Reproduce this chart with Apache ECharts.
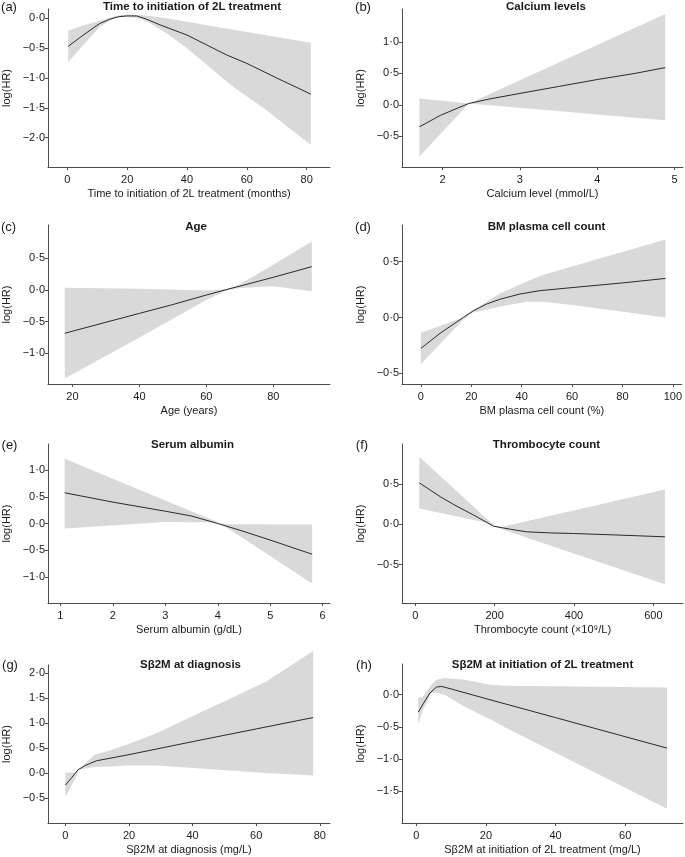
<!DOCTYPE html>
<html><head><meta charset="utf-8">
<script src="https://cdn.jsdelivr.net/npm/echarts@6/dist/echarts.min.js"></script>
<style>html,body{margin:0;padding:0;background:#fff}#c{width:685px;height:857px}</style>
</head><body><div id="c"></div>
<script>
// ---------- (a) Time to initiation of 2L treatment ----------
const aCurveX = [0.3, 4, 7.6, 10.9, 14, 17.1, 20, 23.2, 26.6, 31, 40, 53.3, 60, 70, 81.4];
const aCurveY = [-0.47, -0.33, -0.2, -0.085, -0.02, 0.027, 0.04, 0.04, -0.017, -0.11, -0.28, -0.615, -0.755, -1.0, -1.27];
const aBandX  = [0.3, 5.3, 10.9, 15.5, 17.8, 20, 24, 27.6, 33.2, 40, 55.5, 66.6, 81.4];
const aUpper  = [-0.21, -0.12, -0.04, 0.03, 0.055, 0.06, 0.055, 0.04, 0.0, -0.058, -0.19, -0.284, -0.41];
const aLower  = [-0.73, -0.45, -0.14, 0.0, 0.017, 0.02, 0.0, -0.084, -0.25, -0.50, -1.15, -1.54, -2.12];
const aXTicks = [0, 20, 40, 60, 80];
const aYTicks = [0, -0.5, -1, -1.5, -2];

// ---------- (b) Calcium levels ----------
const bCurveX = [1.7, 1.97, 2.2, 2.34, 2.6, 3.0, 3.5, 4.0, 4.5, 4.88];
const bCurveY = [-0.35, -0.17, -0.05, 0.02, 0.09, 0.18, 0.29, 0.40, 0.50, 0.59];
const bBandX  = [1.7, 2.34, 4.88];
const bUpper  = [0.10, 0.02, 1.44];
const bLower  = [-0.82, 0.02, -0.245];
const bXTicks = [2, 3, 4, 5];
const bYTicks = [-0.5, 0, 0.5, 1.0];

// ---------- (c) Age ----------
const cCurveX = [17.7, 30, 40, 50, 60, 67, 70, 80, 91.5];
const cCurveY = [-0.684, -0.51, -0.37, -0.23, -0.08, 0.02, 0.06, 0.20, 0.368];
const cBandX  = [17.7, 40, 60, 66, 70, 80, 91.5];
const cUpper  = [0.035, 0.02, -0.01, 0.01, 0.09, 0.40, 0.765];
const cLower  = [-1.40, -0.75, -0.16, -0.01, 0.03, 0.06, -0.02];
const cXTicks = [20, 40, 60, 80];
const cYTicks = [-1, -0.5, 0, 0.5];

// ---------- (d) BM plasma cell count ----------
const dCurveX = [0, 7.6, 16.8, 20.8, 26, 31.3, 39.2, 47, 60, 80, 97.1];
const dCurveY = [-0.277, -0.142, 0.0, 0.06, 0.12, 0.163, 0.21, 0.24, 0.268, 0.31, 0.35];
const dBandX  = [0, 16.8, 20, 31.3, 41.8, 48.4, 60.3, 97.1];
const dUpper  = [-0.136, 0.0, 0.055, 0.216, 0.32, 0.38, 0.46, 0.70];
const dLower  = [-0.417, -0.02, 0.04, 0.097, 0.142, 0.142, 0.112, 0.0];
const dXTicks = [0, 20, 40, 60, 80, 100];
const dYTicks = [-0.5, 0, 0.5];

// ---------- (e) Serum albumin ----------
const eCurveX = [1.08, 2, 3, 3.5, 4.0, 4.5, 5, 5.8];
const eCurveY = [0.575, 0.40, 0.23, 0.14, 0.0, -0.15, -0.31, -0.575];
const eBandX  = [1.08, 3.0, 3.9, 4.05, 4.3, 5.8];
const eUpper  = [1.21, 0.43, 0.065, 0.0, -0.015, -0.02];
const eLower  = [-0.094, 0.03, 0.02, -0.01, -0.16, -1.125];
const eXTicks = [1, 2, 3, 4, 5, 6];
const eYTicks = [-1, -0.5, 0, 0.5, 1];

// ---------- (f) Thrombocyte count ----------
const fCurveX = [10, 63, 100, 147, 197, 220, 240, 281, 340, 399, 500, 629];
const fCurveY = [0.52, 0.346, 0.24, 0.117, -0.021, -0.042, -0.06, -0.092, -0.105, -0.113, -0.13, -0.154];
const fBandX  = [10, 180, 200, 220, 629];
const fUpper  = [0.846, 0.07, -0.02, -0.03, 0.4375];
const fLower  = [0.2, 0.02, -0.03, -0.063, -0.746];
const fXTicks = [0, 200, 400, 600];
const fYTicks = [-0.5, 0, 0.5];

// ---------- (g) Sβ2M at diagnosis ----------
const gCurveX = [0, 2, 3.97, 6.07, 8, 9.74, 20, 40.2, 60, 77.9];
const gCurveY = [-0.24, -0.09, 0.066, 0.146, 0.2, 0.246, 0.37, 0.633, 0.885, 1.113];
const gBandX  = [0, 3.46, 4.3, 9.2, 14.5, 19.2, 28.6, 63.2, 77.9];
const gUpper  = [0.013, 0.013, 0.085, 0.366, 0.47, 0.567, 0.8, 1.833, 2.447];
const gLower  = [-0.48, -0.067, 0.07, 0.12, 0.133, 0.153, 0.15, 0.003, -0.047];
const gXTicks = [0, 20, 40, 60, 80];
const gYTicks = [-0.5, 0, 0.5, 1, 1.5, 2];

// ---------- (h) Sβ2M at initiation of 2L treatment ----------
const hCurveX = [0.57, 2, 3.9, 5.8, 7.3, 10, 20, 40, 60, 72];
const hCurveY = [-0.27, -0.14, 0.026, 0.12, 0.129, 0.09, -0.06, -0.355, -0.651, -0.828];
const hBandX  = [0.57, 1.8, 4.4, 5.8, 8.2, 14, 21.2, 26, 72];
const hUpper  = [-0.05, -0.03, 0.155, 0.233, 0.26, 0.233, 0.155, 0.14, 0.114];
const hLower  = [-0.466, -0.25, 0.026, 0.03, 0.0, -0.19, -0.38, -0.52, -1.77];
const hXTicks = [0, 20, 40, 60];
const hYTicks = [0, -0.5, -1, -1.5];

const panels = [
  {tag:'(a)', title:'Time to initiation of 2L treatment', xName:'Time to initiation of 2L treatment (months)',
   cx:aCurveX, cy:aCurveY, bx:aBandX, up:aUpper, lo:aLower, xt:aXTicks, yt:aYTicks},
  {tag:'(b)', title:'Calcium levels', xName:'Calcium level (mmol/L)',
   cx:bCurveX, cy:bCurveY, bx:bBandX, up:bUpper, lo:bLower, xt:bXTicks, yt:bYTicks},
  {tag:'(c)', title:'Age', xName:'Age (years)',
   cx:cCurveX, cy:cCurveY, bx:cBandX, up:cUpper, lo:cLower, xt:cXTicks, yt:cYTicks},
  {tag:'(d)', title:'BM plasma cell count', xName:'BM plasma cell count (%)',
   cx:dCurveX, cy:dCurveY, bx:dBandX, up:dUpper, lo:dLower, xt:dXTicks, yt:dYTicks},
  {tag:'(e)', title:'Serum albumin', xName:'Serum albumin (g/dL)',
   cx:eCurveX, cy:eCurveY, bx:eBandX, up:eUpper, lo:eLower, xt:eXTicks, yt:eYTicks},
  {tag:'(f)', title:'Thrombocyte count', xName:'Thrombocyte count (×10⁹/L)',
   cx:fCurveX, cy:fCurveY, bx:fBandX, up:fUpper, lo:fLower, xt:fXTicks, yt:fYTicks},
  {tag:'(g)', title:'Sβ2M at diagnosis', xName:'Sβ2M at diagnosis (mg/L)',
   cx:gCurveX, cy:gCurveY, bx:gBandX, up:gUpper, lo:gLower, xt:gXTicks, yt:gYTicks},
  {tag:'(h)', title:'Sβ2M at initiation of 2L treatment', xName:'Sβ2M at initiation of 2L treatment (mg/L)',
   cx:hCurveX, cy:hCurveY, bx:hBandX, up:hUpper, lo:hLower, xt:hXTicks, yt:hYTicks}
];

// layout (pixels) and axis extents
const layout = [
  {left:48,  top:9,   width:282, height:158, xMin:-6.45, xMax:87.8, yMin:-2.49, yMax:0.156, titleX:192, titleY:6.5, tagX:9, tagY:7.5},
  {left:402, top:9,   width:281, height:158, xMin:1.475, xMax:5.11, yMin:-0.988, yMax:1.52, titleX:546, titleY:6.5, tagX:363, tagY:7.5},
  {left:48,  top:225, width:282, height:159, xMin:12.7, xMax:96.95, yMin:-1.485, yMax:1.026, titleX:196, titleY:226.5, tagX:8.5, tagY:227},
  {left:402, top:225, width:281, height:159, xMin:-7.5, xMax:103.5, yMin:-0.596, yMax:0.829, titleX:546.5, titleY:226.5, tagX:363, tagY:227},
  {left:48,  top:444, width:282, height:159, xMin:0.763, xMax:6.14, yMin:-1.488, yMax:1.488, titleX:192.5, titleY:445, tagX:9.5, tagY:445},
  {left:402, top:444, width:281, height:159, xMin:-33.5, xMax:674.6, yMin:-0.98, yMax:1.004, titleX:546.5, titleY:445, tagX:362, tagY:445},
  {left:48,  top:665, width:282, height:158, xMin:-5.47, xMax:83.2, yMin:-1.0, yMax:2.166, titleX:190.5, titleY:664.5, tagX:10, tagY:665},
  {left:402, top:664, width:281, height:159, xMin:-4.1, xMax:76.6, yMin:-1.99, yMax:0.477, titleX:542.5, titleY:664.5, tagX:364, tagY:665}
];

const FONT = '"Liberation Sans", Arial, sans-serif';
const TXT = '#1a1a1a';
const AX = '#4d4d4d';
const fmtY = v => { const s = Math.abs(v).toFixed(1).replace('.', '·'); return v < -1e-9 ? '−' + s : s; };

const grid = [], xAxis = [], yAxis = [], series = [], graphic = [];
panels.forEach((p, i) => {
  const L = layout[i];
  grid.push({left:L.left, top:L.top, width:L.width, height:L.height, containLabel:false});
  xAxis.push({
    type:'value', gridIndex:i, min:L.xMin, max:L.xMax,
    name:p.xName, nameLocation:'middle', nameGap:21,
    nameTextStyle:{fontFamily:FONT, fontSize:11, color:TXT},
    axisLine:{show:true, onZero:false, lineStyle:{color:AX, width:1}},
    axisTick:{show:true, length:3, lineStyle:{color:AX}, customValues:p.xt},
    axisLabel:{customValues:p.xt, margin:7, fontFamily:FONT, fontSize:11, color:TXT, formatter:v => String(v)},
    splitLine:{show:false}
  });
  yAxis.push({
    type:'value', gridIndex:i, min:L.yMin, max:L.yMax,
    name:'log(HR)', nameLocation:'middle', nameGap:36,
    nameTextStyle:{fontFamily:FONT, fontSize:11, color:TXT},
    axisLine:{show:true, onZero:false, lineStyle:{color:AX, width:1}},
    axisTick:{show:true, length:3, lineStyle:{color:AX}, customValues:p.yt},
    axisLabel:{customValues:p.yt, margin:3, fontFamily:FONT, fontSize:11, color:TXT, formatter:fmtY},
    splitLine:{show:false}
  });
  series.push({
    type:'custom', xAxisIndex:i, yAxisIndex:i, silent:true, z:1, clip:false,
    data:[[p.bx[0], p.up[0]]],
    renderItem:(params, api) => {
      const pts = [];
      for (let k = 0; k < p.bx.length; k++) pts.push(api.coord([p.bx[k], p.up[k]]));
      for (let k = p.bx.length - 1; k >= 0; k--) pts.push(api.coord([p.bx[k], p.lo[k]]));
      return {type:'polygon', shape:{points:pts}, style:{fill:'#d9d9d9', stroke:null}};
    }
  });
  series.push({
    type:'line', xAxisIndex:i, yAxisIndex:i, z:3, silent:true,
    data:p.cx.map((x, k) => [x, p.cy[k]]),
    showSymbol:false, symbol:'none', smooth:false,
    lineStyle:{color:'#2a2a2a', width:1}
  });
  graphic.push({type:'text', x:L.titleX, y:L.titleY,
    style:{text:p.title, font:'bold 11.5px ' + FONT, fill:TXT, textAlign:'center', textVerticalAlign:'middle'}});
  graphic.push({type:'text', x:L.tagX, y:L.tagY,
    style:{text:p.tag, font:'13px ' + FONT, fill:TXT, textAlign:'center', textVerticalAlign:'middle'}});
});

const chart = echarts.init(document.getElementById('c'), null, {renderer:'canvas'});
chart.setOption({animation:false, backgroundColor:'#fff', grid, xAxis, yAxis, series, graphic});
</script>
</body></html>
